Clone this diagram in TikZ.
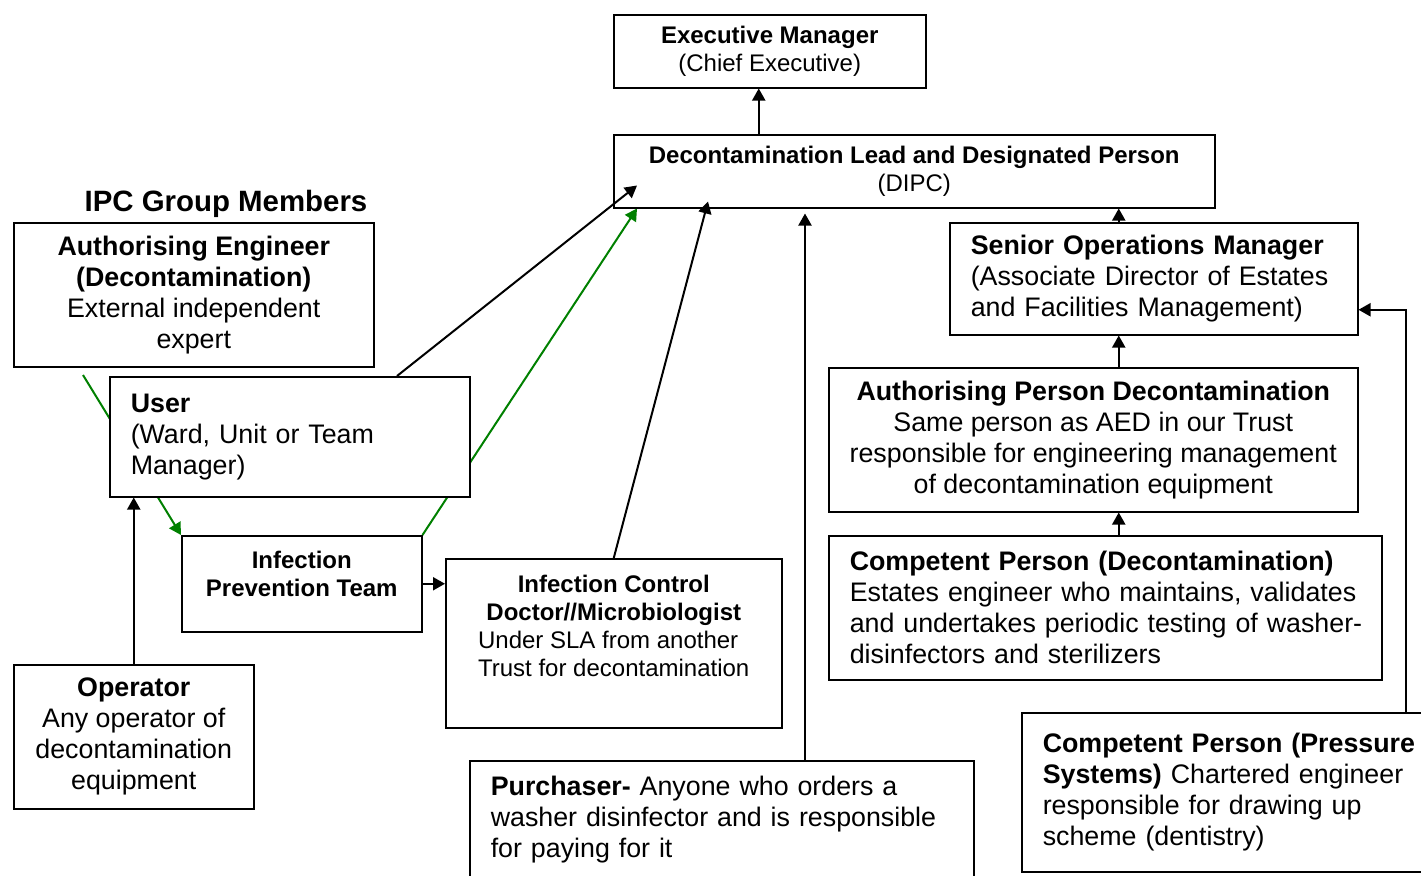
\documentclass[tikz,border=0pt]{standalone}
\usepackage{fontspec}
\setmainfont{Liberation Sans}
\usetikzlibrary{arrows.meta,calc,backgrounds}
\definecolor{linkgreen}{RGB}{0,128,0}
\hyphenpenalty=10000
\exhyphenpenalty=10000

\begin{document}
\begin{tikzpicture}[
  x=0.5pt, y=-0.5pt,
  font=\fontsize{13.4}{15.5}\selectfont,
  box/.style={draw, line width=0.75pt, fill=white, anchor=north west, inner sep=0pt},
  cbox/.style={box, align=center},
  lbox/.style={box, align=left, inner xsep=10.5pt},
  small/.style={font=\fontsize{12}{14}\selectfont},
  head/.style={font=\fontsize{14.7}{16}\selectfont\bfseries},
  arr/.style={-{Triangle[length=6pt, width=6.5pt]}, line width=1pt},
  garr/.style={arr, draw=linkgreen, fill=linkgreen},
]
  \useasboundingbox (0,0) rectangle (1421,875);

  % Top of the chain
  \node[cbox, small, minimum width=156pt, minimum height=36.5pt] (exec) at (613,14)
    {\textbf{Executive Manager}\\(Chief Executive)};
  \node[cbox, small, minimum width=300.5pt, minimum height=36.5pt] (dipc) at (613,134)
    {\textbf{Decontamination Lead and Designated Person}\\(DIPC)};

  % IPC group (left)
  \node[head] (ipc) at (226,204) {IPC Group Members};
  \node[cbox, minimum width=180pt, minimum height=72pt] (aed) at (13,222)
    {\textbf{Authorising Engineer}\\\textbf{(Decontamination)}\\External independent\\expert};
  \node[lbox, text width=159pt, minimum height=60pt] (user) at (109,376)
    {\textbf{User}\\(Ward, Unit or Team\\Manager)};
  \node[cbox, small, minimum width=120pt, minimum height=48pt] (ipt) at (181,535)
    {\textbf{Infection}\\\textbf{Prevention Team}\\[-4pt]\mbox{}};
  \node[cbox, small, minimum width=168pt, minimum height=84.5pt] (icd) at (445,558)
    {\textbf{Infection Control}\\\textbf{Doctor//Microbiologist}\\
     \begin{tabular}[t]{@{}l@{}}Under SLA from another\\Trust for decontamination\end{tabular}\\[12pt]\mbox{}};
  \node[cbox, minimum width=120pt, minimum height=72pt] (oper) at (13,664)
    {\textbf{Operator}\\Any operator of\\decontamination\\equipment};
  \node[lbox, text width=231pt, minimum height=59pt] (purch) at (469,760)
    {\textbf{Purchaser-} Anyone who orders a\\washer disinfector and is responsible\\for paying for it};

  % Estates chain (right)
  \node[lbox, text width=183pt, minimum height=56pt] (som) at (949,222)
    {\textbf{Senior Operations Manager}\\(Associate Director of Estates\\and Facilities Management)};
  \node[cbox, minimum width=264.5pt, minimum height=72pt] (apd) at (828,367)
    {\textbf{Authorising Person Decontamination}\\Same person as AED in our Trust\\responsible for engineering management\\of decontamination equipment};
  \node[lbox, text width=255.5pt, minimum height=72pt] (cpd) at (828,535)
    {\textbf{Competent Person (Decontamination)}\\Estates engineer who maintains, validates\\\mbox{and undertakes periodic testing of washer-}\\disinfectors and sterilizers};
  \node[lbox, text width=199pt, minimum height=79.5pt] (cpps) at (1021,712)
    {\textbf{Competent Person (Pressure}\\\textbf{Systems)} Chartered engineer\\responsible for drawing up\\scheme (dentistry)};

  % Black connectors
  \draw[arr] ([xshift=-5.5pt]exec.south |- dipc.north) -- ([xshift=-5.5pt]exec.south);
  \coordinate (spine) at ([xshift=-17.5pt]som.north);
  \draw[arr] (spine) -- (spine |- dipc.south);
  \draw[arr] (spine |- apd.north) -- (spine |- som.south);
  \draw[arr] (spine |- cpd.north) -- (spine |- apd.south);
  \draw[arr] ([xshift=192.5pt]cpps.north west) |- ([yshift=-15.5pt]som.east);
  \coordinate (pbuy) at ([xshift=168pt]purch.north west);
  \draw[arr] (pbuy) -- ([yshift=-2.5pt]pbuy |- dipc.south);
  \draw[arr] (icd.north) -- ([xshift=47.5pt, yshift=3.5pt]dipc.south west);
  \draw[arr] ([xshift=144pt]user.north west) -- ([xshift=12pt, yshift=11.5pt]dipc.south west);
  \draw[arr] (ipt.east) -- (ipt.east -| icd.west);
  \draw[arr] (oper.north) -- (oper.north |- user.south);

  % Green connectors (behind the User box)
  \coordinate (aedfoot) at (83,375);
  \begin{scope}[on background layer]
    \draw[garr] (aedfoot) -- (ipt.north west);
    \draw[garr] (ipt.north east) -- ([xshift=12pt]dipc.south west);
  \end{scope}
\end{tikzpicture}
\end{document}
